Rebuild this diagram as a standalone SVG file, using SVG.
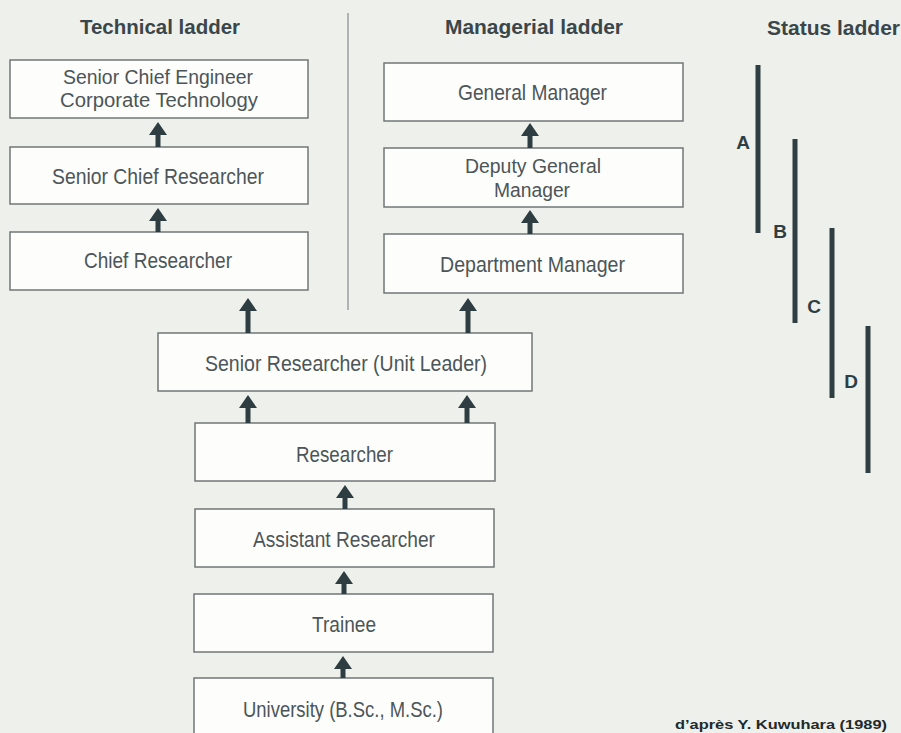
<svg xmlns="http://www.w3.org/2000/svg" width="901" height="733" viewBox="0 0 901 733">
<style>
.box{fill:#fdfdfb;stroke:#6f7777;stroke-width:1.5}
.t{font-family:"Liberation Sans",Arial,sans-serif;font-size:22px;fill:#4c5558;text-anchor:start}
.t2{font-size:20px}
.h{font-family:"Liberation Sans",Arial,sans-serif;font-size:21px;font-weight:bold;fill:#3a4649}
.lab{font-family:"Liberation Sans",Arial,sans-serif;font-size:19px;font-weight:bold;fill:#2f3e42;text-anchor:middle}
.bar{stroke:#2f3e42;stroke-width:5}
.arr{fill:#2e3d42}
.div{stroke:#8d9494;stroke-width:1.3}
.foot{font-family:"Liberation Sans",Arial,sans-serif;font-size:13px;font-weight:bold;fill:#1f2a2c}
</style>
<rect width="901" height="733" fill="#eef0eb"/>

<text class="h" x="80" y="34" textLength="160" lengthAdjust="spacingAndGlyphs">Technical ladder</text>
<text class="h" x="445" y="34" textLength="178" lengthAdjust="spacingAndGlyphs">Managerial ladder</text>
<text class="h" x="767" y="35" textLength="133" lengthAdjust="spacingAndGlyphs">Status ladder</text>

<line class="div" x1="348" y1="13" x2="348" y2="310"/>

<g id="senior-chief-engineer">
<rect class="box" x="10" y="60" width="298" height="58"/>
<text class="t t2" x="63" y="84" textLength="190" lengthAdjust="spacingAndGlyphs">Senior Chief Engineer</text>
<text class="t t2" x="60" y="107" textLength="198" lengthAdjust="spacingAndGlyphs">Corporate Technology</text>
</g>
<g id="senior-chief-researcher">
<rect class="box" x="10" y="147" width="298" height="57"/>
<text class="t" x="52" y="184" textLength="212" lengthAdjust="spacingAndGlyphs">Senior Chief Researcher</text>
</g>
<g id="chief-researcher">
<rect class="box" x="10" y="232" width="298" height="58"/>
<text class="t" x="84" y="268" textLength="148" lengthAdjust="spacingAndGlyphs">Chief Researcher</text>
</g>

<g id="general-manager">
<rect class="box" x="384" y="63" width="299" height="58"/>
<text class="t" x="458" y="100" textLength="149" lengthAdjust="spacingAndGlyphs">General Manager</text>
</g>
<g id="deputy-general-manager">
<rect class="box" x="384" y="148" width="299" height="59"/>
<text class="t t2" x="465" y="173" textLength="136" lengthAdjust="spacingAndGlyphs">Deputy General</text>
<text class="t t2" x="494" y="197" textLength="76" lengthAdjust="spacingAndGlyphs">Manager</text>
</g>
<g id="department-manager">
<rect class="box" x="384" y="234" width="299" height="59"/>
<text class="t" x="440" y="272" textLength="185" lengthAdjust="spacingAndGlyphs">Department Manager</text>
</g>

<g id="senior-researcher">
<rect class="box" x="158" y="333" width="374" height="58"/>
<text class="t" x="205" y="371" textLength="282" lengthAdjust="spacingAndGlyphs">Senior Researcher (Unit Leader)</text>
</g>
<g id="researcher">
<rect class="box" x="195" y="423" width="300" height="58"/>
<text class="t" x="296" y="462" textLength="97" lengthAdjust="spacingAndGlyphs">Researcher</text>
</g>
<g id="assistant-researcher">
<rect class="box" x="195" y="509" width="299" height="58"/>
<text class="t" x="253" y="547" textLength="182" lengthAdjust="spacingAndGlyphs">Assistant Researcher</text>
</g>
<g id="trainee">
<rect class="box" x="194" y="594" width="299" height="58"/>
<text class="t" x="312" y="632" textLength="64" lengthAdjust="spacingAndGlyphs">Trainee</text>
</g>
<g id="university">
<rect class="box" x="194" y="678" width="299" height="70"/>
<text class="t" x="243" y="717" textLength="200" lengthAdjust="spacingAndGlyphs">University (B.Sc., M.Sc.)</text>
</g>

<g id="connectors">
<path class="arr" d="M158 122 L167 135 L160.5 135 L160.5 147 L155.5 147 L155.5 135 L149 135 Z"/>
<path class="arr" d="M158 208 L167 221 L160.5 221 L160.5 232 L155.5 232 L155.5 221 L149 221 Z"/>
<path class="arr" d="M248 298 L257 311 L250.5 311 L250.5 333 L245.5 333 L245.5 311 L239 311 Z"/>
<path class="arr" d="M530 123 L539 136 L532.5 136 L532.5 148 L527.5 148 L527.5 136 L521 136 Z"/>
<path class="arr" d="M530 210 L539 223 L532.5 223 L532.5 234 L527.5 234 L527.5 223 L521 223 Z"/>
<path class="arr" d="M468 298 L477 311 L470.5 311 L470.5 333 L465.5 333 L465.5 311 L459 311 Z"/>
<path class="arr" d="M248 395 L257 408 L250.5 408 L250.5 423 L245.5 423 L245.5 408 L239 408 Z"/>
<path class="arr" d="M467 395 L476 408 L469.5 408 L469.5 423 L464.5 423 L464.5 408 L458 408 Z"/>
<path class="arr" d="M345 485 L354 498 L347.5 498 L347.5 509 L342.5 509 L342.5 498 L336 498 Z"/>
<path class="arr" d="M344 571 L353 584 L346.5 584 L346.5 594 L341.5 594 L341.5 584 L335 584 Z"/>
<path class="arr" d="M343 656 L352 669 L345.5 669 L345.5 678 L340.5 678 L340.5 669 L334 669 Z"/>
</g>

<g id="status-ladder">
<line class="bar" x1="758" y1="65" x2="758" y2="233"/>
<line class="bar" x1="795" y1="139" x2="795" y2="323"/>
<line class="bar" x1="832" y1="228" x2="832" y2="398"/>
<line class="bar" x1="868" y1="326" x2="868" y2="473"/>
<text class="lab" x="743" y="149">A</text>
<text class="lab" x="780" y="238">B</text>
<text class="lab" x="814" y="313">C</text>
<text class="lab" x="851" y="388">D</text>
</g>

<text class="foot" x="675" y="729" textLength="212" lengthAdjust="spacingAndGlyphs">d’après Y. Kuwuhara (1989)</text>
</svg>
